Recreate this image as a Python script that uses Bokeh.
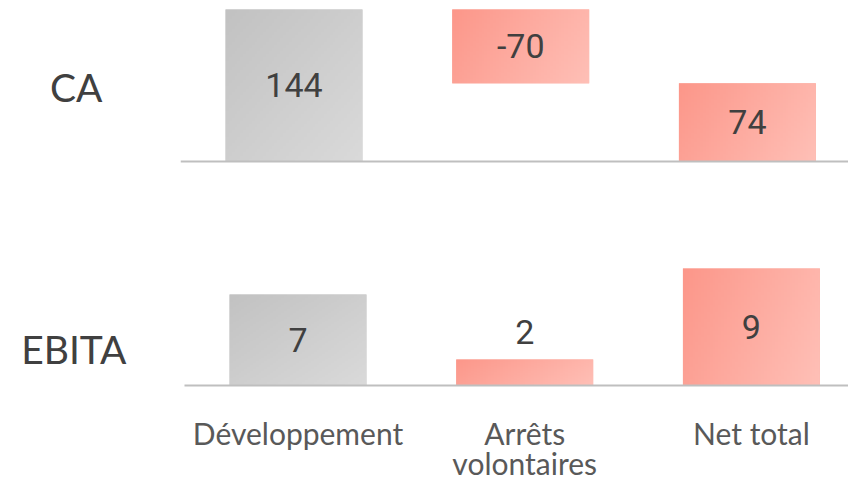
import numpy as np
from bokeh.plotting import figure
from bokeh.models import Range1d, FixedTicker
from bokeh.layouts import column
from bokeh.core.properties import value
from bokeh.embed import file_html
from bokeh.resources import INLINE

# ---- data ----
categories = ["Développement", "Arrêts volontaires", "Net total"]
tick_labels = ["Développement", "Arrêts\nvolontaires", "Net total"]
rows = ["CA", "EBITA"]
ca_values = [144, -70, 74]
ebita_values = [7, 2, 9]
kinds = ["gray", "salmon", "salmon"]

GRAY = ((0xC2, 0xC2, 0xC2), (0xDA, 0xDA, 0xDA))
SALMON = ((0xFC, 0x97, 0x8A), (0xFF, 0xC0, 0xB7))
SOLID = {"gray": "#cecece", "salmon": "#fdab9f"}
TXT = "#404040"
BASE = "#bfbfbf"
BAR_W = 0.604

xs = list(range(len(categories)))


def gradient(kind, n=48):
    c0, c1 = GRAY if kind == "gray" else SALMON
    u = np.linspace(0, 1, n)[None, :]
    v = np.linspace(0, 1, n)[:, None]  # 0 = bottom
    if kind == "gray":
        t = 0.5 * u + 0.5 * (1 - v)
    else:
        t = 0.75 * u + 0.25 * (1 - v)
    img = np.empty((n, n), dtype=np.uint32)
    view = img.view(dtype=np.uint8).reshape((n, n, 4))
    for k in range(3):
        view[:, :, k] = (c0[k] + (c1[k] - c0[k]) * t).astype(np.uint8)
    view[:, :, 3] = 255
    return img


def draw_bars(p, bottoms, tops, base_x0):
    for i, x in enumerate(xs):
        b, t = bottoms[i], tops[i]
        p.quad(left=x - BAR_W / 2, right=x + BAR_W / 2, bottom=b, top=t,
               fill_color=SOLID[kinds[i]], line_color=None)
        p.image_rgba(image=[gradient(kinds[i])], x=x - BAR_W / 2, y=b,
                     dw=BAR_W, dh=t - b)
    p.segment(x0=[base_x0], x1=[p.x_range.end], y0=[0], y1=[0],
              line_color=BASE, line_width=2)


def style(p):
    p.xgrid.visible = False
    p.ygrid.visible = False
    p.outline_line_color = None
    p.background_fill_color = "white"
    p.border_fill_color = "white"
    p.yaxis.axis_line_color = None
    p.yaxis.major_tick_line_color = None
    p.yaxis.minor_tick_line_color = None
    p.yaxis.major_label_text_font = "Lato"
    p.yaxis.major_label_text_font_size = "39px"
    p.yaxis.major_label_text_color = TXT


# ---- CA panel ----
p1 = figure(frame_width=668, frame_height=190, min_border_left=180,
            min_border_right=0, min_border_top=8, min_border_bottom=0,
            x_range=Range1d(-0.5007, 2.446), y_range=Range1d(-35.04, 144.9),
            output_backend="svg", toolbar_location=None)
ca_bottom = [0, ca_values[0] + ca_values[1], 0]
ca_top = [ca_values[0], ca_values[0], ca_values[2]]
draw_bars(p1, ca_bottom, ca_top, -0.5007)
p1.text(x=xs, y=[(b + t) / 2 for b, t in zip(ca_bottom, ca_top)],
        text=[str(v) for v in ca_values], text_font=value("Roboto"),
        text_font_size="34px", text_align="center", text_baseline="middle",
        text_color=TXT)
style(p1)
p1.xaxis.visible = False
ca_pos = 70.1
p1.yaxis.ticker = FixedTicker(ticks=[ca_pos])
p1.yaxis.major_label_overrides = {ca_pos: rows[0]}
p1.yaxis.major_label_standoff = 72

# ---- EBITA panel ----
p2 = figure(frame_width=668, frame_height=189, min_border_left=180,
            min_border_right=0, min_border_top=0, min_border_bottom=0,
            x_range=Range1d(-0.5183, 2.4283), y_range=Range1d(-0.154, 14.385),
            output_backend="svg", toolbar_location=None)
eb_bottom = [0, 0, 0]
eb_top = list(ebita_values)
draw_bars(p2, eb_bottom, eb_top, -0.5007)
inside = [i for i in xs if eb_top[i] - eb_bottom[i] >= 4]
above = [i for i in xs if eb_top[i] - eb_bottom[i] < 4]
p2.text(x=[xs[i] for i in inside],
        y=[(eb_bottom[i] + eb_top[i]) / 2 for i in inside],
        text=[str(ebita_values[i]) for i in inside], text_font=value("Roboto"),
        text_font_size="34px", text_align="center", text_baseline="middle",
        text_color=TXT)
p2.text(x=[xs[i] for i in above], y=[eb_top[i] + 2.1 for i in above],
        text=[str(ebita_values[i]) for i in above], text_font=value("Roboto"),
        text_font_size="34px", text_align="center", text_baseline="middle",
        text_color=TXT)
style(p2)
eb_pos = 2.77
p2.yaxis.ticker = FixedTicker(ticks=[eb_pos])
p2.yaxis.major_label_overrides = {eb_pos: rows[1]}
p2.yaxis.major_label_standoff = 48
p2.xaxis.ticker = FixedTicker(ticks=xs)
p2.xaxis.major_label_overrides = {i: lab for i, lab in zip(xs, tick_labels)}
p2.xaxis.axis_line_color = None
p2.xaxis.major_tick_line_color = None
p2.xaxis.minor_tick_line_color = None
p2.xaxis.major_label_standoff = 21
p2.xaxis.major_label_text_font = "Lato"
p2.xaxis.major_label_text_font_size = "30px"
p2.xaxis.major_label_text_line_height = 0.85
p2.xaxis.major_label_text_color = "#595959"

layout = column(p1, p2, spacing=0)
open("out.html", "w").write(file_html(layout, INLINE))
